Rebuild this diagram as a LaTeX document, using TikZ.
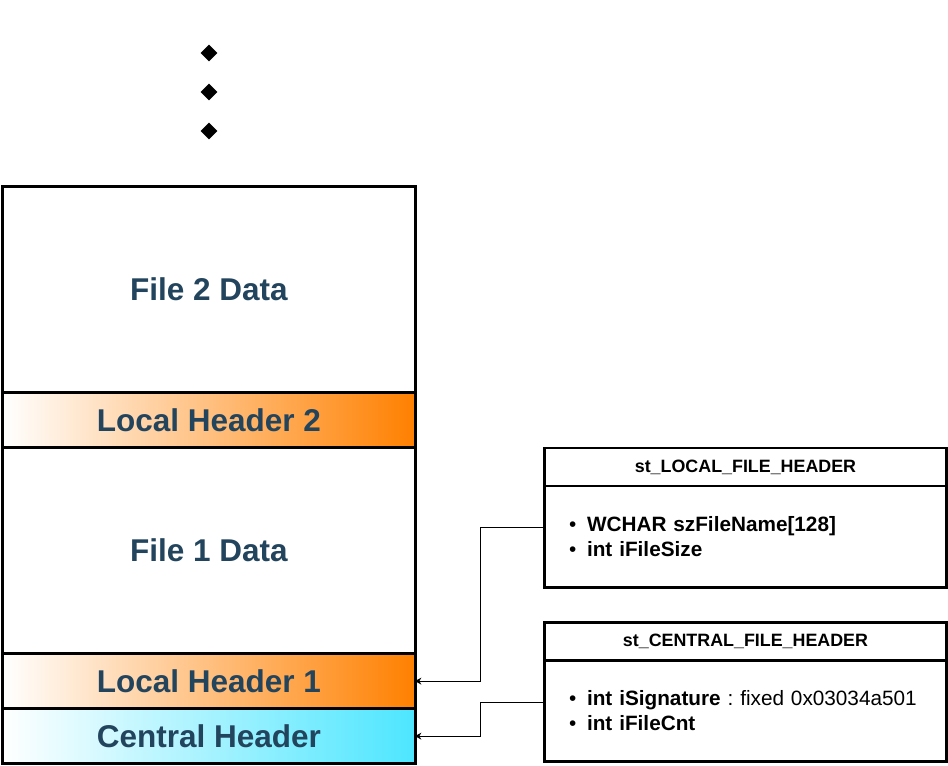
\documentclass[tikz,border=0pt]{standalone}
\usepackage{fontspec}
\setsansfont{Liberation Sans}
\usetikzlibrary{arrows.meta,positioning,shapes.geometric}

\definecolor{labelblue}{HTML}{23445D}
\definecolor{hdrorange}{HTML}{FF8000}
\definecolor{hdrcyan}{RGB}{77,230,255}

\newcommand{\fielditem}[1]{\hspace*{7.5pt}\makebox[12.8pt][l]{\textbullet}#1}

\begin{document}
\begin{tikzpicture}[x=0.025cm,y=-0.025cm,
  block/.style={draw,line width=2.1pt,minimum width=10.3cm,inner sep=0pt,outer sep=0pt,
    font=\sffamily\bfseries\fontsize{22.4}{26}\selectfont,text=labelblue},
  datablock/.style={block,minimum height=5.15cm},
  hdrblock/.style={block,minimum height=1.375cm},
  structtitle/.style={draw,line width=2.1pt,minimum width=10.025cm,minimum height=0.95cm,
    inner sep=0pt,outer sep=0pt,font=\sffamily\bfseries\fontsize{12.7}{15}\selectfont},
  structbody/.style={draw,line width=2.1pt,minimum width=10.025cm,minimum height=2.525cm,
    inner xsep=9pt,inner ysep=0pt,outer sep=0pt,text width=266pt,align=left,
    font=\sffamily\frenchspacing\fontsize{14.75}{17.7}\selectfont},
  link/.style={line width=0.7pt,-{Stealth[length=4.5pt,width=5pt]}},
  dot/.style={diamond,fill=black,minimum size=0.42cm,inner sep=0pt},
  node distance=0pt]
  \useasboundingbox (0,0) rectangle (948,765);

  % more files above
  \foreach \i/\y in {1/53,2/92,3/131}
    \node[dot] (dot\i) at (209,\y) {};

  % archive layout
  \node[datablock] (file2) at (209,289.5) {File 2 Data};
  \node[hdrblock,left color=white,right color=hdrorange,below=of file2] (lh2) {Local Header 2};
  \node[datablock,below=of lh2] (file1) {File 1 Data};
  \node[hdrblock,left color=white,right color=hdrorange,below=of file1] (lh1) {Local Header 1};
  \node[hdrblock,left color=white,right color=hdrcyan,below=of lh1] (central) {Central Header};

  % header structs
  \node[structtitle] (lfhtitle) at (745.5,467) {st\_LOCAL\_FILE\_HEADER};
  \node[structbody,below=of lfhtitle] (lfhbody)
    {\fielditem{\textbf{WCHAR szFileName[128]}}\\
     \fielditem{\textbf{int iFileSize}}};
  \node[structtitle] (cfhtitle) at (745.5,641.5) {st\_CENTRAL\_FILE\_HEADER};
  \node[structbody,below=of cfhtitle] (cfhbody)
    {\fielditem{\textbf{int iSignature} : fixed 0x03034a501}\\
     \fielditem{\textbf{int iFileCnt}}};

  % links
  \draw[link] ([yshift=0.22cm]lfhbody.west) -- ++(-64,0) |- (lh1.east);
  \draw[link] ([yshift=0.22cm]cfhbody.west) -- ++(-64,0) |- (central.east);
\end{tikzpicture}
\end{document}
